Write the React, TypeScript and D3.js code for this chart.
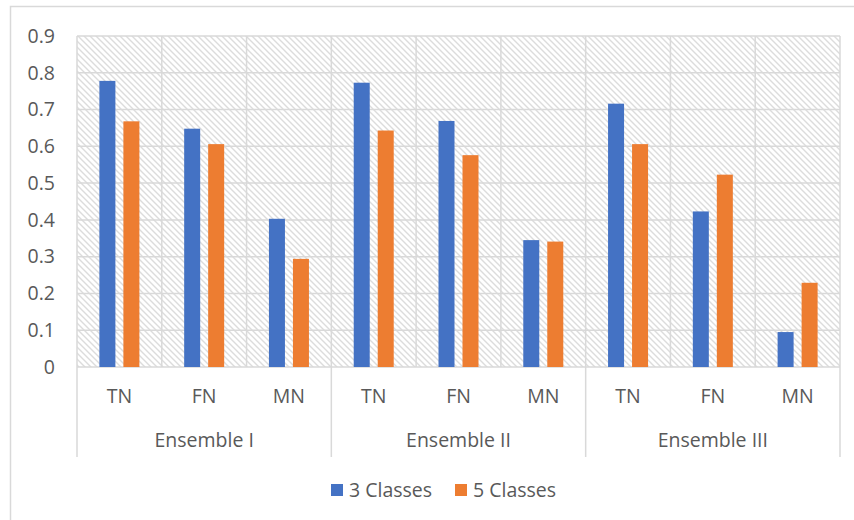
import React from "react";
import * as d3 from "d3";

const groups = ["Ensemble I", "Ensemble II", "Ensemble III"];
const subCategories = ["TN", "FN", "MN"];
const seriesNames = ["3 Classes", "5 Classes"];
const seriesColors = ["#4472C4", "#ED7D31"];

// values per group, in TN, FN, MN order
const classes3 = [
  [0.778, 0.648, 0.403],
  [0.773, 0.669, 0.345],
  [0.716, 0.423, 0.095],
];
const classes5 = [
  [0.668, 0.606, 0.294],
  [0.643, 0.576, 0.341],
  [0.606, 0.523, 0.229],
];
const yTicks = [0, 0.1, 0.2, 0.3, 0.4, 0.5, 0.6, 0.7, 0.8, 0.9];

const W = 854;
const H = 520;
const plot = { left: 77, right: 840, top: 36, bottom: 367 };
const axisBottom = 457;
const gridColor = "#d9d9d9";
const textColor = "#595959";
const font = "'Open Sans', 'Noto Sans', sans-serif";
const fontSize = 19.5;

export default function App() {
  const y = d3.scaleLinear().domain([0, 0.9]).range([plot.bottom, plot.top]);
  const xGroup = d3.scaleBand<string>().domain(groups).range([plot.left, plot.right]);
  const xSub = d3.scaleBand<string>().domain(subCategories).range([0, xGroup.bandwidth()]);

  const seriesData = [classes3, classes5];

  const categoryEdges: number[] = [];
  groups.forEach((g) => {
    subCategories.forEach((s, i) => {
      if (i > 0) categoryEdges.push((xGroup(g) ?? 0) + (xSub(s) ?? 0));
    });
  });
  const groupEdges = [...groups.map((g) => xGroup(g) ?? 0), plot.right];

  return (
    <svg
      width={W}
      height={H}
      style={{ position: "absolute", left: 0, top: 0, background: "#fff" }}
      fontFamily={font}
    >
      <defs>
        <pattern id="hatch" width={6} height={6} patternUnits="userSpaceOnUse">
          <path d="M-1,-1 L7,7 M-4,2 L2,8 M4,-2 L8,2" stroke="#dcdcdc" strokeWidth={1.4} />
        </pattern>
      </defs>
      <rect x={10.5} y={6.5} width={W} height={H} fill="#fff" stroke={gridColor} strokeWidth={1.5} />

      {/* plot background */}
      <rect
        x={plot.left}
        y={plot.top}
        width={plot.right - plot.left}
        height={plot.bottom - plot.top}
        fill="url(#hatch)"
      />

      {/* horizontal gridlines */}
      {yTicks.map((t) => (
        <line
          key={"g" + t}
          x1={plot.left}
          x2={plot.right}
          y1={y(t)}
          y2={y(t)}
          stroke={gridColor}
          strokeWidth={1.5}
        />
      ))}
      {/* category dividers inside the plot */}
      {categoryEdges.map((x, i) => (
        <line key={"c" + i} x1={x} x2={x} y1={plot.top} y2={plot.bottom} stroke={gridColor} strokeWidth={1.5} />
      ))}
      {/* group dividers run down through the axis labels */}
      {groupEdges.map((x, i) => (
        <line key={"e" + i} x1={x} x2={x} y1={plot.top} y2={axisBottom} stroke={gridColor} strokeWidth={1.5} />
      ))}

      {/* bars */}
      {groups.map((g, gi) =>
        subCategories.map((s, si) => {
          const c = (xGroup(g) ?? 0) + (xSub(s) ?? 0) + xSub.bandwidth() / 2;
          const xSeries = d3
            .scaleBand<string>()
            .domain(seriesNames)
            .range([c - 20, c + 20])
            .paddingInner(1 / 3)
            .paddingOuter(0);
          return seriesNames.map((name, k) => {
            const v = seriesData[k][gi][si];
            return (
              <rect
                key={g + s + name}
                x={xSeries(name)}
                y={y(v)}
                width={xSeries.bandwidth()}
                height={y(0) - y(v)}
                fill={seriesColors[k]}
              />
            );
          });
        })
      )}

      {/* y tick labels */}
      {yTicks.map((t) => (
        <text
          key={"t" + t}
          x={55}
          y={y(t)}
          dy="0.35em"
          textAnchor="end"
          fontSize={fontSize}
          fill={textColor}
        >
          {d3.format("")(Math.round(t * 10) / 10)}
        </text>
      ))}

      {/* category labels */}
      {groups.map((g) =>
        subCategories.map((s) => (
          <text
            key={"l" + g + s}
            x={(xGroup(g) ?? 0) + (xSub(s) ?? 0) + xSub.bandwidth() / 2}
            y={396}
            dy="0.35em"
            textAnchor="middle"
            fontSize={fontSize}
            fill={textColor}
          >
            {s}
          </text>
        ))
      )}
      {groups.map((g) => (
        <text
          key={"gl" + g}
          x={(xGroup(g) ?? 0) + xGroup.bandwidth() / 2}
          y={440}
          dy="0.35em"
          textAnchor="middle"
          fontSize={fontSize}
          fill={textColor}
        >
          {g}
        </text>
      ))}

      {/* legend */}
      {seriesNames.map((name, k) => {
        const lx = [331, 455][k];
        return (
          <g key={"lg" + name}>
            <rect x={lx} y={484} width={12} height={12} fill={seriesColors[k]} />
            <text x={lx + 18} y={490} dy="0.35em" fontSize={fontSize} fill={textColor}>
              {name}
            </text>
          </g>
        );
      })}
    </svg>
  );
}
